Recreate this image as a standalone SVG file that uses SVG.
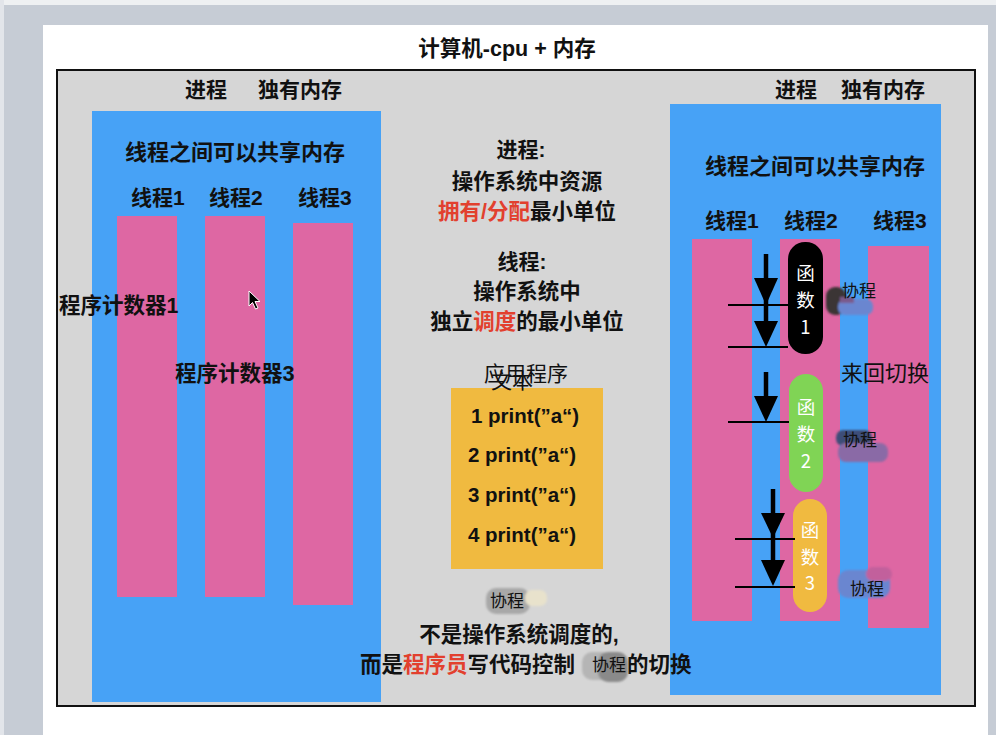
<svg xmlns="http://www.w3.org/2000/svg" width="996" height="735" viewBox="0 0 996 735">
<style>
text{font-family:"Liberation Sans","Noto Sans CJK SC",sans-serif;fill:#111}
.h{font-size:21px;font-weight:bold}
.c{font-size:21px;font-weight:bold;text-anchor:middle}
.red{fill:#e2402e}
.pt{font-size:18.5px;fill:#fff;text-anchor:middle;font-family:"Noto Sans CJK SC","Liberation Sans",sans-serif}
.pr{font-size:20.5px;font-weight:bold}
.sm{font-size:17px}
.blue{fill:#47a2f6}
.pink{fill:#de67a3}
.ln{stroke:#000;stroke-width:2}
.sh{stroke:#000;stroke-width:4.5}
</style>
<defs>
<filter id="soft" x="-20%" y="-20%" width="140%" height="140%"><feGaussianBlur stdDeviation="1.2"/></filter>
</defs>
<rect x="0" y="0" width="996" height="735" fill="#c6ccd5"/>
<rect x="0" y="0" width="996" height="5" fill="#eef0f2"/>
<rect x="0" y="0" width="4" height="735" fill="#e2e5ea"/>
<rect x="43" y="25" width="945" height="710" fill="#fff"/>
<g id="title"><text x="507" y="56" class="h" text-anchor="middle" style="font-size:21.5px">计算机-cpu + 内存</text></g>
<g id="computer"><rect x="57" y="70" width="918" height="636" fill="#d6d6d6" stroke="#111" stroke-width="2"/></g>

<g id="process-left">
<text x="185" y="97" class="h">进程</text>
<text x="258" y="97" class="h">独有内存</text>
<rect x="92" y="111" width="289" height="591" class="blue"/>
<text x="235" y="160" class="c" style="font-size:22px">线程之间可以共享内存</text>
</g>
<g id="thread-l1"><text x="131" y="205" class="h">线程1</text><rect x="117" y="216" width="60" height="381" class="pink"/></g>
<g id="thread-l2"><text x="209" y="205" class="h">线程2</text><rect x="205" y="216" width="60" height="381" class="pink"/></g>
<g id="thread-l3"><text x="298" y="205" class="h">线程3</text><rect x="293" y="223" width="60" height="382" class="pink"/></g>
<g id="pc1"><text x="59" y="313" class="h" style="font-size:21.5px">程序计数器1</text></g>
<g id="pc3"><text x="175" y="381" class="h" style="font-size:21.5px">程序计数器3</text></g>
<g id="cursor"><path d="M249,291 L249,306 L252.5,302.5 L255.5,309 L258,308 L255,301.5 L260,301.5 Z" fill="#000" stroke="#fff" stroke-width="1"/></g>

<g id="desc-process">
<text x="521" y="157" class="c">进程:</text>
<text x="527" y="189" class="c" style="font-size:21.5px">操作系统中资源</text>
<text x="527" y="219" class="c" style="font-size:21.5px"><tspan class="red">拥有/分配</tspan>最小单位</text>
</g>
<g id="desc-thread">
<text x="522" y="269" class="c">线程:</text>
<text x="527" y="299" class="c" style="font-size:21.5px">操作系统中</text>
<text x="527" y="329" class="c" style="font-size:21.5px">独立<tspan class="red">调度</tspan>的最小单位</text>
</g>

<g id="app">
<rect x="451" y="388" width="152" height="181" fill="#f0ba40"/>
<text x="526" y="381" font-size="21" text-anchor="middle">应用程序</text>
<text x="512" y="388" font-size="21" text-anchor="middle">文本</text>
<text x="471" y="423" class="pr">1 print(”a“)</text>
<text x="468" y="462" class="pr">2 print(”a“)</text>
<text x="468" y="502" class="pr">3 print(”a“)</text>
<text x="468" y="542" class="pr">4 print(”a“)</text>
</g>

<g id="process-right">
<text x="775" y="97" class="h">进程</text>
<text x="841" y="97" class="h">独有内存</text>
<rect x="670" y="104" width="271" height="591" class="blue"/>
<text x="815" y="174" class="c" style="font-size:22px">线程之间可以共享内存</text>
</g>
<g id="thread-r1"><text x="705" y="228" class="h">线程1</text><rect x="692" y="239" width="60" height="382" class="pink"/></g>
<g id="thread-r2"><text x="784" y="228" class="h">线程2</text><rect x="780" y="239" width="60" height="382" class="pink"/></g>
<g id="thread-r3"><text x="873" y="228" class="h">线程3</text><rect x="868" y="246" width="61" height="382" class="pink"/></g>

<g id="func1"><rect x="788" y="242" width="35" height="112" rx="17" fill="#000"/>
<text x="805.5" y="280" class="pt">函</text><text x="805.5" y="307" class="pt">数</text><text x="805.5" y="334" class="pt">1</text></g>
<g id="func2"><rect x="789" y="374" width="34" height="118" rx="17" fill="#80d455"/>
<text x="806" y="414" class="pt">函</text><text x="806" y="441" class="pt">数</text><text x="806" y="468" class="pt">2</text></g>
<g id="func3"><rect x="793" y="499" width="34" height="113" rx="17" fill="#f0ba40"/>
<text x="810" y="537" class="pt">函</text><text x="810" y="564" class="pt">数</text><text x="810" y="590" class="pt">3</text></g>

<g id="coroutine-1">
<g filter="url(#soft)">
<rect x="826" y="287" width="20" height="28" rx="9" fill="#3a3636"/>
<rect x="838" y="299" width="35" height="16" rx="7" fill="#6a86d0"/>
<rect x="840" y="297" width="14" height="6" fill="#7a5a8c"/>
</g>
<text x="842" y="297" class="sm">协程</text>
</g>
<g id="coroutine-2">
<g filter="url(#soft)">
<rect x="836" y="430" width="36" height="16" rx="7" fill="#3e4e78"/>
<rect x="838" y="443" width="50" height="19" rx="8" fill="#8a6aa6"/>
</g>
<text x="843" y="446" class="sm">协程</text>
</g>
<g id="coroutine-3">
<g filter="url(#soft)">
<rect x="838" y="570" width="52" height="28" rx="10" fill="#6a86d0"/>
<rect x="866" y="567" width="26" height="14" rx="7" fill="#c2609c"/>
</g>
<text x="850" y="595" class="sm">协程</text>
</g>
<g id="switch"><text x="841" y="381" font-size="22">来回切换</text></g>

<g id="coroutine-note">
<g filter="url(#soft)">
<rect x="486" y="588" width="44" height="26" rx="10" fill="#a8a8a8"/>
<rect x="525" y="590" width="22" height="16" rx="7" fill="#e8e2cc"/>
</g>
<text x="490" y="607" class="sm">协程</text>
<text x="519" y="642" class="c" style="font-size:21.5px">不是操作系统调度的,</text>
<text x="360" y="672" font-size="21.5" font-weight="bold">而是<tspan class="red">程序员</tspan>写代码控制</text>
<g filter="url(#soft)">
<rect x="582" y="652" width="30" height="28" rx="10" fill="#b5b5b5"/>
<rect x="598" y="652" width="30" height="30" rx="10" fill="#8a8a8a"/>
</g>
<text x="592" y="671" class="sm">协程</text>
<text x="627" y="672" font-size="21.5" font-weight="bold">的切换</text>
</g>

<g id="connectors">
<line x1="728" y1="305" x2="788" y2="305" class="ln"/>
<line x1="728" y1="347" x2="788" y2="347" class="ln"/>
<line x1="728" y1="422" x2="789" y2="422" class="ln"/>
<line x1="735" y1="539" x2="795" y2="539" class="ln"/>
<line x1="735" y1="587" x2="795" y2="587" class="ln"/>
<line x1="766" y1="254" x2="766" y2="290" class="sh"/>
<polygon points="754,278 778,278 766,305" fill="#000"/>
<line x1="766" y1="296" x2="766" y2="330" class="sh"/>
<polygon points="754,321 778,321 766,347" fill="#000"/>
<line x1="766" y1="372" x2="766" y2="405" class="sh"/>
<polygon points="754,396 778,396 766,422" fill="#000"/>
<line x1="773" y1="489" x2="773" y2="520" class="sh"/>
<polygon points="761,513 785,513 773,538" fill="#000"/>
<line x1="773" y1="530" x2="773" y2="568" class="sh"/>
<polygon points="761,560 785,560 773,586" fill="#000"/>
</g>
</svg>
